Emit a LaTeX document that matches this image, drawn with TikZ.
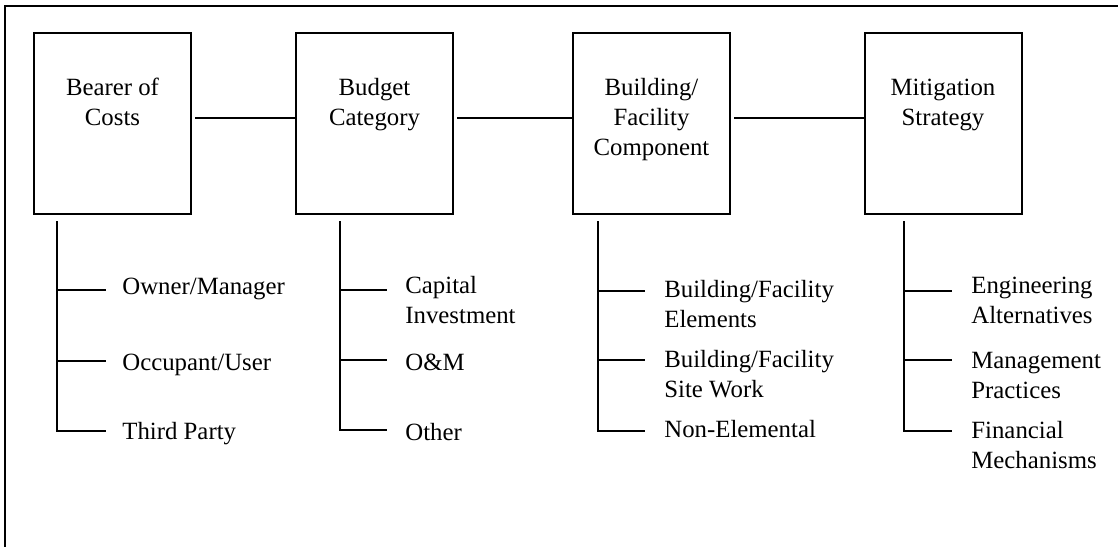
\documentclass[tikz,border=0pt]{standalone}
\usepackage{fontspec}
\setmainfont{Liberation Serif}
\usepackage{tikz}
\tikzstyle{Frame}=[draw,line width=1.1pt]
\tikzstyle{Box}=[draw,line width=1pt,minimum width=78.5pt,
minimum height=90.5pt,inner sep=0pt]
\tikzstyle{Edge}=[draw,line width=1pt]
\tikzstyle{Head}=[align=center,inner sep=0pt,anchor=base,
font=\fontsize{12.4}{15}\selectfont]
\tikzstyle{Leaf}=[align=left,inner sep=0pt,anchor=base west,
font=\fontsize{12.4}{15}\selectfont]

\begin{document}
\begin{tikzpicture}[x=0.5pt,y=-0.5pt]
        \useasboundingbox(0,0)rectangle(1118,546);
        \clip(0,0)rectangle(1118,546);
        \draw[Frame](5,6)rectangle(1140,570);
        % boxes
        \node[Box](bearer)at(112.5,123.5){};
        \node[Box](budget)at(374.5,123.5){};
        \node[Box](component)at(651.5,123.5){};
        \node[Box](strategy)at(943.0,123.5){};
        \node[Head](bearerT)at(112.5,125){Bearer of\\Costs};
        \node[Head](budgetT)at(374.5,125){Budget\\Category};
        \node[Head](componentT)at(651.5,155){Building/\\Facility\\Component};
        \node[Head](strategyT)at(943.0,125){Mitigation\\Strategy};
        \draw[Edge,shorten <=1.5pt]([yshift=2.75pt]bearer.east)
            --([yshift=2.75pt]budget.west);
        \draw[Edge,shorten <=1.5pt]([yshift=2.75pt]budget.east)
            --([yshift=2.75pt]component.west);
        \draw[Edge,shorten <=1.5pt]([yshift=2.75pt]component.east)
            --([yshift=2.75pt]strategy.west);
        % bearer of costs
        \coordinate(t1)at(57,221);
        \coordinate(e11)at(106,290);
        \coordinate(e12)at(106,361);
        \coordinate(e13)at(106,431);
        \draw[Edge](t1)|-(e13);
        \draw[Edge](t1|-e11)--(e11);
        \draw[Edge](t1|-e12)--(e12);
        \node[Leaf](owner)at(122,294){Owner/Manager};
        \node[Leaf](occupant)at(122,370){Occupant/User};
        \node[Leaf](third)at(122,439){Third Party};
        % budget category
        \coordinate(t2)at(340,221);
        \coordinate(e21)at(387,290);
        \coordinate(e22)at(387,360);
        \coordinate(e23)at(387,430);
        \draw[Edge](t2)|-(e23);
        \draw[Edge](t2|-e21)--(e21);
        \draw[Edge](t2|-e22)--(e22);
        \node[Leaf](capital)at(405,323){Capital\\Investment};
        \node[Leaf](om)at(405,370){O\&M};
        \node[Leaf](other)at(405,440){Other};
        % building/facility component
        \coordinate(t3)at(598,221);
        \coordinate(e31)at(645,291);
        \coordinate(e32)at(645,360);
        \coordinate(e33)at(645,431);
        \draw[Edge](t3)|-(e33);
        \draw[Edge](t3|-e31)--(e31);
        \draw[Edge](t3|-e32)--(e32);
        \node[Leaf](elements)at(664,327){Building/Facility\\Elements};
        \node[Leaf](site)at(664,397){Building/Facility\\Site Work};
        \node[Leaf](nonel)at(664,437){Non-Elemental};
        % mitigation strategy
        \coordinate(t4)at(904,221);
        \coordinate(e41)at(952,290.5);
        \coordinate(e42)at(952,360);
        \coordinate(e43)at(952,430.5);
        \draw[Edge](t4)|-(e43);
        \draw[Edge](t4|-e41)--(e41);
        \draw[Edge](t4|-e42)--(e42);
        \node[Leaf](engineering)at(971,323){Engineering\\Alternatives};
        \node[Leaf](management)at(971,398){Management\\Practices};
        \node[Leaf](financial)at(971,468){Financial\\Mechanisms};
    \end{tikzpicture}
\end{document}
